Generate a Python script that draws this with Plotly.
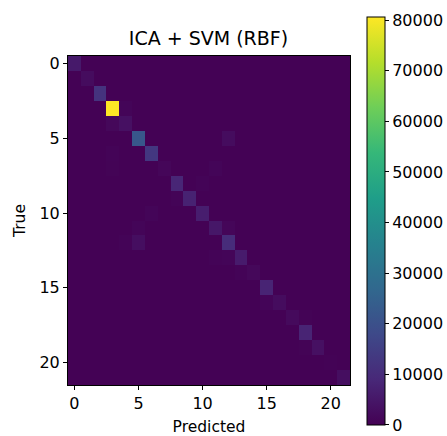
import numpy as np
import plotly.graph_objects as go

n_classes = 22
labels = list(range(n_classes))

# diagonal (correct predictions) per class
diag_values = [5500, 2500, 12000, 80600, 3500, 22000, 13000, 1200, 8500, 7500,
               6500, 5000, 10000, 6000, 1500, 8000, 2500, 2000, 8000, 3500, 500, 3000]

# notable off-diagonal confusions: (true, predicted, count)
off_true = [4, 5, 12, 11, 6, 7, 8, 9, 10, 13, 14, 16, 12, 7, 3, 11, 17, 19, 13]
off_pred = [3, 12, 5, 12, 3, 11, 10, 8, 6, 12, 13, 15, 4, 3, 4, 5, 18, 18, 11]
off_vals = [1500, 2500, 3000, 1200, 800, 900, 700, 800, 900, 1000, 700, 1000, 800, 600, 900, 900, 600, 600, 700]

z = np.full((n_classes, n_classes), 150.0)
for i, v in enumerate(diag_values):
    z[i, i] = v
for t, p, v in zip(off_true, off_pred, off_vals):
    z[t, p] = v

cb_ticks = [0, 10000, 20000, 30000, 40000, 50000, 60000, 70000, 80000]

fig = go.Figure(go.Heatmap(
    z=z, x=labels, y=labels, colorscale="Viridis", zmin=0, zmax=max(diag_values),
    colorbar=dict(
        thickness=18, x=1.06, xanchor="left", y=0.4985, yanchor="middle",
        len=1.240, lenmode="fraction", outlinecolor="black", outlinewidth=1,
        tickvals=cb_ticks, ticktext=[str(v) for v in cb_ticks],
        ticks="outside", ticklen=4, tickcolor="black",
        ticklabeloverflow="allow",
        tickfont=dict(family="DejaVu Sans", size=16, color="black"),
        xpad=0, ypad=0,
    ),
))

fig.update_layout(
    width=447, height=436,
    margin=dict(l=67.5, r=97, t=56, b=51, autoexpand=False),
    paper_bgcolor="white", plot_bgcolor="white",
    font=dict(family="DejaVu Sans", size=15.5, color="black"),
    title=dict(text="ICA + SVM (RBF)", x=(67.5 + 141) / 447, xanchor="center",
               y=1 - 38 / 436, yanchor="middle", font=dict(size=19)),
)
fig.update_xaxes(
    tickvals=[0, 5, 10, 15, 20], ticks="outside", ticklen=4, tickcolor="black",
    tickfont=dict(size=16),
    showline=True, linecolor="black", mirror=True, showgrid=False, zeroline=False,
    automargin=False,
    range=[-0.5, 21.5], title=dict(text="Predicted", standoff=22, font=dict(size=15.5)),
)
fig.update_yaxes(
    tickvals=[0, 5, 10, 15, 20], ticks="outside", ticklen=4, tickcolor="black",
    tickfont=dict(size=16),
    showline=True, linecolor="black", mirror=True, showgrid=False, zeroline=False,
    automargin=False,
    range=[21.5, -0.5], title=dict(text="True", standoff=10, font=dict(size=15.5)),
)

fig.write_html("out.html")
